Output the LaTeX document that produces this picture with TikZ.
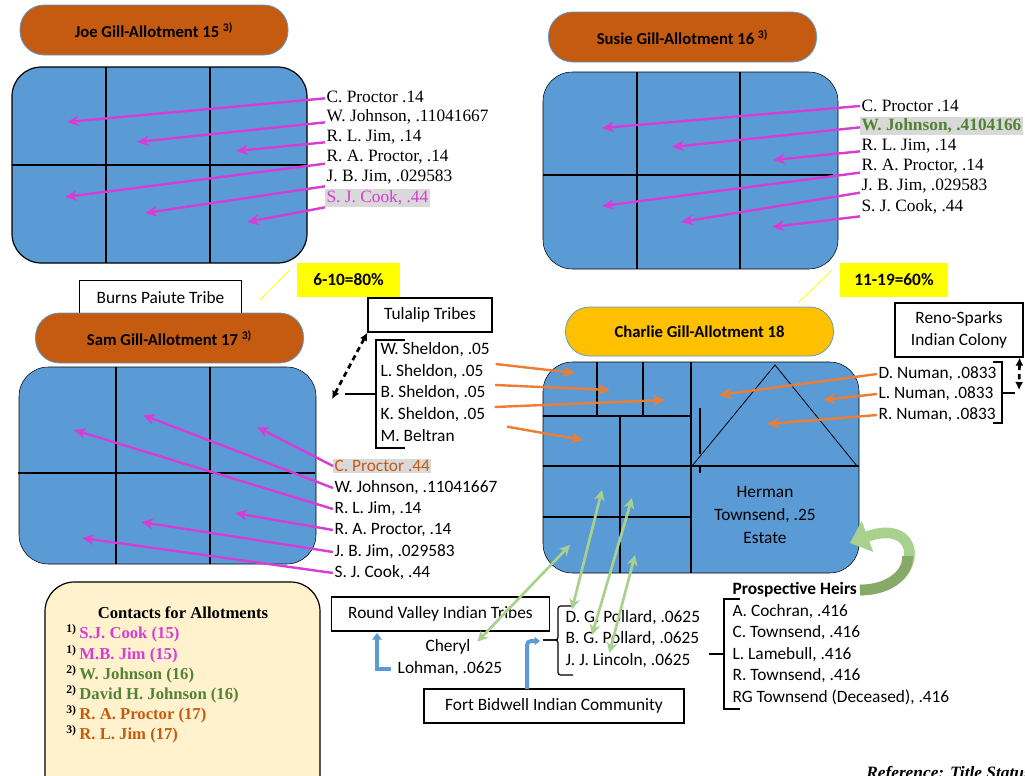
\documentclass[tikz,border=0pt]{standalone}
\usepackage{fontspec}
\setmainfont{Liberation Serif}
\newfontfamily\calibri{Carlito}
\usetikzlibrary{arrows.meta}
\tikzset{
  allot/.style={minimum width=201pt, minimum height=37.5pt, rounded corners=18pt, draw=plotblue, line width=0.6pt, inner sep=0pt, font=\calibri\bfseries\fontsize{12.5}{15}\selectfont},
  plotbox/.style={fill=plotblue, rounded corners=22pt},
  plotline/.style={draw=black, line width=0.9pt},
  tag/.style={draw=black, line width=0.9pt, fill=white, inner sep=0pt, font=\calibri\fontsize{13}{16}\selectfont},
  note/.style={fill=notepaper, inner sep=0pt, minimum height=25.5pt, font=\calibri\bfseries\fontsize{13}{16}\selectfont},
  noteline/.style={draw=notepaper, line width=0.6pt, shorten <=8pt},
  seriflist/.style={anchor=west, inner sep=1pt, font=\fontsize{13}{15}\selectfont},
  sanslist/.style={anchor=west, inner sep=1pt, font=\calibri\fontsize{13}{15}\selectfont},
  contact/.style={anchor=west, inner sep=0pt, font=\bfseries\fontsize{12.5}{15}\selectfont},
  bracket/.style={draw=black, line width=0.9pt},
  magarrow/.style={draw=magline, line width=1.8pt, -{Stealth[length=9pt,width=8pt]}},
  orarrow/.style={draw=orline, line width=1.8pt, -{Stealth[length=9pt,width=8pt]}},
  grarrow/.style={draw=grline, line width=2pt, {Stealth[length=8pt,width=8pt]}-{Stealth[length=8pt,width=8pt]}},
  tiearrow/.style={draw=black, line width=2pt, dash pattern=on 4pt off 3pt, {Latex[length=6pt,width=6pt]}-{Latex[length=6pt,width=6pt]}},
  bluearrow/.style={draw=plotblue, line width=3pt, -{Triangle[length=5pt,width=7pt]}},
  heirarrow/.style={draw=grline, line width=8pt, -{Triangle[length=14pt,width=24pt]}},
}
\begin{document}
\begin{tikzpicture}[x=0.75pt, y=-0.75pt]
\definecolor{plotblue}{RGB}{91,155,213}
\definecolor{ovalbrown}{RGB}{197,90,17}
\definecolor{ovalgold}{RGB}{255,192,0}
\definecolor{magline}{RGB}{214,60,214}
\definecolor{orline}{RGB}{237,125,49}
\definecolor{grline}{RGB}{169,209,142}
\definecolor{grshade}{RGB}{135,170,105}
\definecolor{greentext}{RGB}{84,130,53}
\definecolor{orangetext}{RGB}{197,90,17}
\definecolor{hilite}{RGB}{217,217,217}
\definecolor{notepaper}{RGB}{255,255,0}
\definecolor{notecream}{RGB}{255,242,204}
\useasboundingbox (0,0) rectangle (1025,775);

% Joe Gill, allotment 15
\node[allot, fill=ovalbrown] (joe) at (154,30) {Joe Gill-Allotment 15 \textsuperscript{3)}};
\draw[plotbox, draw=black, line width=0.9pt] (12,67) rectangle (307,263);
\draw[plotline] (106,67) -- (106,263);
\draw[plotline] (210,67) -- (210,263);
\draw[plotline] (12,165) -- (307,165);
\coordinate (j1) at (67,122);
\coordinate (j2) at (137,142);
\coordinate (j3) at (236,151);
\coordinate (j4) at (65,197);
\coordinate (j5) at (145,213);
\coordinate (j6) at (247,222);
\node[seriflist] (jl1) at (325,97) {C. Proctor .14};
\node[seriflist] (jl2) at (325,117) {W. Johnson, .11041667};
\node[seriflist] (jl3) at (325,137) {R. L. Jim, .14};
\node[seriflist] (jl4) at (325,157) {R. A. Proctor, .14};
\node[seriflist] (jl5) at (325,177) {J. B. Jim, .029583};
\node[seriflist, fill=hilite, text=magline] (jl6) at (325,198) {S. J. Cook, .44};
\draw[magarrow] ([yshift=-1pt]jl1.west) -- (j1);
\draw[magarrow] ([yshift=-4pt]jl2.west) -- (j2);
\draw[magarrow] ([yshift=-4pt]jl3.west) -- (j3);
\draw[magarrow] ([yshift=-5pt]jl4.west) -- (j4);
\draw[magarrow] ([yshift=-7pt]jl5.west) -- (j5);
\draw[magarrow] ([yshift=-7pt]jl6.west) -- (j6);

% Susie Gill, allotment 16
\node[allot, fill=ovalbrown] (susie) at (682.5,37) {Susie Gill-Allotment 16 \textsuperscript{3)}};
\draw[plotbox] (543,72) rectangle (838,269);
\draw[plotline] (637,72) -- (637,269);
\draw[plotline] (740,72) -- (740,269);
\draw[plotline] (543,175) -- (833,175);
\coordinate (s1) at (602,128);
\coordinate (s2) at (672,147);
\coordinate (s3) at (773,160);
\coordinate (s4) at (602,206);
\coordinate (s5) at (681,222);
\coordinate (s6) at (772,227);
\node[seriflist] (sl1) at (860,106) {C. Proctor .14};
\node[seriflist, fill=hilite, text=greentext, font=\bfseries\fontsize{13}{15}\selectfont] (sl2) at (860,126) {W. Johnson, .4104166};
\node[seriflist] (sl3) at (860,146) {R. L. Jim, .14};
\node[seriflist] (sl4) at (860,166) {R. A. Proctor, .14};
\node[seriflist] (sl5) at (860,186) {J. B. Jim, .029583};
\node[seriflist] (sl6) at (860,207) {S. J. Cook, .44};
\draw[magarrow] (sl1.west) -- (s1);
\draw[magarrow] ([yshift=-1pt]sl2.west) -- (s2);
\draw[magarrow] ([yshift=-4pt]sl3.west) -- (s3);
\draw[magarrow] ([yshift=-5pt]sl4.west) -- (s4);
\draw[magarrow] ([yshift=-5pt]sl5.west) -- (s5);
\draw[magarrow] ([yshift=-7pt]sl6.west) -- (s6);

% yellow notes
\node[note, minimum width=77pt] (pct80) at (348.5,280) {6-10=80\%};
\coordinate (pct80foot) at (260,300);
\draw[noteline] (pct80.north west) -- (pct80foot);
\node[note, minimum width=81pt] (pct60) at (894,280) {11-19=60\%};
\coordinate (pct60foot) at (799,302);
\draw[noteline] (pct60.north west) -- (pct60foot);

% Sam Gill, allotment 17
\node[tag, minimum width=122pt, minimum height=25pt] (burns) at (160.5,297.5) {Burns Paiute Tribe};
\node[allot, fill=ovalbrown] (sam) at (169.5,338) {Sam Gill-Allotment 17 \textsuperscript{3)}};
\draw[plotbox] (19,367) rectangle (316,564);
\draw[plotline] (116,367) -- (116,564);
\draw[plotline] (210,367) -- (210,564);
\draw[plotline] (18,473) -- (315,473);
\coordinate (m1) at (257,427);
\coordinate (m2) at (143,415);
\coordinate (m3) at (74,430);
\coordinate (m4) at (235,513);
\coordinate (m5) at (141,522);
\coordinate (m6) at (82,538);
\node[sanslist, fill=hilite, text=orangetext] (ml1) at (333,466) {C. Proctor .44};
\node[sanslist] (ml2) at (333,488) {W. Johnson, .11041667};
\node[sanslist] (ml3) at (333,509) {R. L. Jim, .14};
\node[sanslist] (ml4) at (333,530) {R. A. Proctor, .14};
\node[sanslist] (ml5) at (333,552) {J. B. Jim, .029583};
\node[sanslist] (ml6) at (333,573) {S. J. Cook, .44};
\draw[magarrow] (ml1.west) -- (m1);
\draw[magarrow] (ml2.west) -- (m2);
\draw[magarrow] (ml3.west) -- (m3);
\draw[magarrow] (ml4.west) -- (m4);
\draw[magarrow] (ml5.west) -- (m5);
\draw[magarrow] (ml6.west) -- (m6);

% Tulalip Tribes
\node[tag, minimum width=93pt, minimum height=25.5pt] (tulalip) at (430,315) {Tulalip Tribes};
\coordinate (tulaliptie) at (332,399);
\draw[tiearrow] (tulalip.south west) -- (tulaliptie);
\draw[bracket] (405,340) -- (376,340) -- (376,448) -- (405,448);
\draw[bracket] (345,394) -- (376,394);
\node[sanslist] (ws) at (379,350) {W. Sheldon, .05};
\node[sanslist] (ls) at (379,372) {L. Sheldon, .05};
\node[sanslist] (bs) at (379,393) {B. Sheldon, .05};
\node[sanslist] (ks) at (379,415) {K. Sheldon, .05};
\node[sanslist] (mb) at (379,436) {M. Beltran};

% Charlie Gill, allotment 18
\node[allot, fill=ovalgold, minimum height=36.75pt] (charlie) at (699.5,331.5) {Charlie Gill-Allotment 18};
\draw[plotbox] (543,362) rectangle (859,573);
\draw[plotline] (691,362) -- (691,573);
\draw[plotline] (543,416) -- (691,416);
\draw[plotline] (597,362) -- (597,416);
\draw[plotline] (643,362) -- (643,416);
\draw[plotline] (620,416) -- (620,573);
\draw[plotline] (543,466) -- (859,466);
\draw[plotline] (543,517) -- (691,517);
\draw[plotline] (700,408) -- (700,454);
\draw[plotline] (700,467) -- (700,473);
\draw[draw=black, line width=0.6pt] (692,466) -- (775,365) -- (857,466);
\node[font=\calibri\fontsize{13}{17}\selectfont, align=center] (herman) at (765,515) {Herman\\Townsend, .25\\Estate};
\coordinate (c1) at (575,373);
\coordinate (c2) at (610,390);
\coordinate (c3) at (665,400);
\coordinate (c4) at (583,440);
\draw[orarrow] ([shift={(8pt,6pt)}]ls.east) -- (c1);
\draw[orarrow] ([shift={(6pt,6pt)}]bs.east) -- (c2);
\draw[orarrow] ([shift={(6pt,6pt)}]ks.east) -- (c3);
\draw[orarrow] ([shift={(38pt,7pt)}]mb.east) -- (c4);

% Reno-Sparks Indian Colony
\node[tag, minimum width=96pt, minimum height=40.5pt, align=center, font=\calibri\fontsize{13}{16}\selectfont] (reno) at (959,330) {Reno-Sparks\\Indian Colony};
\coordinate (renotie) at (1019,390);
\draw[tiearrow] ([xshift=-3pt]reno.south east) -- (renotie);
\draw[bracket] (993,362) -- (1002,362) -- (1002,423) -- (993,423);
\draw[bracket] (1002,393) -- (1015,393);
\node[sanslist] (dn) at (877,374) {D. Numan, .0833};
\node[sanslist] (ln) at (877,394) {L. Numan, .0833};
\node[sanslist] (rn) at (877,415) {R. Numan, .0833};
\coordinate (n1) at (719,395);
\coordinate (n2) at (823,400);
\coordinate (n3) at (767,424);
\draw[orarrow] (dn.west) -- (n1);
\draw[orarrow] (ln.west) -- (n2);
\draw[orarrow] (rn.west) -- (n3);

% Round Valley and Fort Bidwell
\node[tag, minimum width=163pt, minimum height=25.5pt] (roundvalley) at (440.5,614) {Round Valley Indian Tribes};
\node[font=\calibri\fontsize{13}{15}\selectfont, inner sep=1pt] (cheryl) at (448,647) {Cheryl};
\node[font=\calibri\fontsize{13}{15}\selectfont, inner sep=1pt] (lohman) at (450,669) {Lohman, .0625};
\coordinate (rvfoot) at (377,633);
\draw[bluearrow] ([xshift=-4pt]lohman.west) -| (rvfoot);
\node[tag, minimum width=195pt, minimum height=25.5pt] (bidwell) at (554,706) {Fort Bidwell Indian Community};
\coordinate (bidfoot) at (527,689);
\coordinate (bidhook) at (540,641);
\draw[bluearrow, rounded corners=3pt, -{Triangle[length=4pt,width=6pt]}] (bidfoot) |- (bidhook);
\draw[bracket, rounded corners=2pt] (573,606) -- (558,606) -- (558,640) -- (543,640);
\draw[bracket, rounded corners=2pt] (543,640) -- (558,640) -- (558,675) -- (573,675);
\node[sanslist] (dg) at (564,618) {D. G. Pollard, .0625};
\node[sanslist] (bg) at (564,639) {B. G. Pollard, .0625};
\node[sanslist] (jj) at (564,661) {J. J. Lincoln, .0625};
\coordinate (g1) at (570,545);
\coordinate (g2) at (602,490);
\coordinate (g3) at (632,498);
\coordinate (g4) at (635,555);
\draw[grarrow] ([shift={(4pt,4pt)}]cheryl.east) -- (g1);
\draw[grarrow] ([xshift=6pt]dg.north west) -- (g2);
\draw[grarrow] ([shift={(21pt,3pt)}]bg.west) -- (g3);
\draw[grarrow] ([shift={(34pt,6pt)}]jj.west) -- (g4);

% Prospective heirs
\node[sanslist, font=\calibri\bfseries\fontsize{13}{15}\selectfont] (heirs) at (731,590) {Prospective Heirs};
\draw[bracket] (740,599) -- (724,599) -- (724,709) -- (740,709);
\draw[bracket] (709,654) -- (724,654);
\node[sanslist] (h1) at (731,612) {A. Cochran, .416};
\node[sanslist] (h2) at (731,633) {C. Townsend, .416};
\node[sanslist] (h3) at (731,655) {L. Lamebull, .416};
\node[sanslist] (h4) at (731,676) {R. Townsend, .416};
\node[sanslist] (h5) at (731,697) {RG Townsend (Deceased), .416};
\coordinate (heirtail) at (860,590);
\coordinate (heirtip) at (850,543);
\draw[heirarrow] (heirtail) .. controls (925,590) and (925,515) .. (heirtip);
\draw[draw=grshade, line width=8pt] (heirtail) .. controls (892.5,590) and (908.75,571.25) .. (907.5,556);

% contacts
\draw[fill=notecream, draw=black, line width=0.9pt, rounded corners=22pt] (45,582) rectangle (320,810);
\node[font=\bfseries\fontsize{12.5}{15}\selectfont] (contacts) at (183,613) {Contacts for Allotments};
\node[contact, text=magline] (ct1) at (66,633) {\textcolor{black}{\textsuperscript{1)}}\,S.J. Cook (15)};
\node[contact, text=magline] (ct2) at (66,654) {\textcolor{black}{\textsuperscript{1)}}\,M.B. Jim (15)};
\node[contact, text=greentext] (ct3) at (66,674) {\textcolor{black}{\textsuperscript{2)}}\,W. Johnson (16)};
\node[contact, text=greentext] (ct4) at (66,694) {\textcolor{black}{\textsuperscript{2)}}\,David H. Johnson (16)};
\node[contact, text=orangetext] (ct5) at (66,714) {\textcolor{black}{\textsuperscript{3)}}\,R. A. Proctor (17)};
\node[contact, text=orangetext] (ct6) at (66,734) {\textcolor{black}{\textsuperscript{3)}}\,R. L. Jim (17)};

\node[anchor=base west, inner sep=0pt, font=\bfseries\itshape\fontsize{13}{15}\selectfont] (refnote) at (866,778) {Reference: Title Status};
\end{tikzpicture}
\end{document}
